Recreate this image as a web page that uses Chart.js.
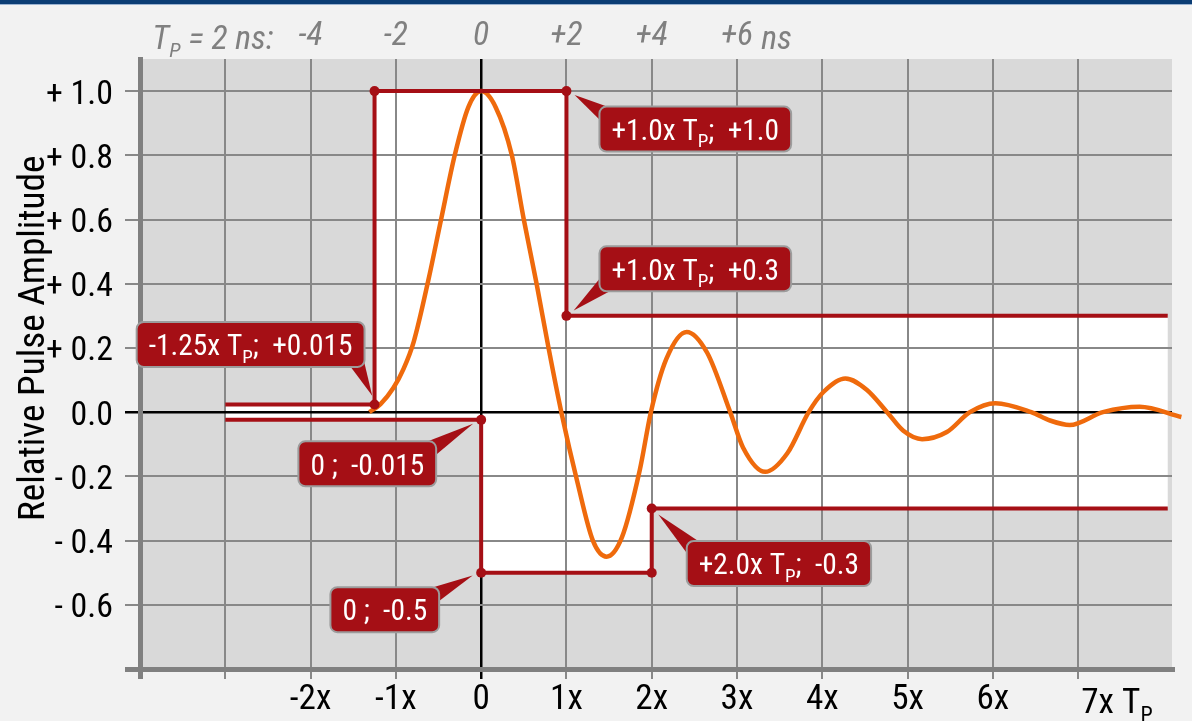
<!DOCTYPE html>
<html>
<head>
<meta charset="utf-8">
<title>Pulse mask</title>
<script src="https://cdn.jsdelivr.net/npm/chart.js@4.4.1/dist/chart.umd.min.js"></script>
<style>
html, body { margin: 0; padding: 0; background: #f2f2f2; }
#wrap { position: relative; width: 1192px; height: 721px; overflow: hidden; }
#topBar { position: absolute; left: 0; top: 0; width: 100%; height: 4px; background: #0b3d74; border-bottom: 1px solid #9bb3d1; z-index: 2; }
canvas { display: block; }
</style>
</head>
<body>
<div id="wrap">
    <div id="topBar"></div>
    <canvas id="pulseChart" width="1192" height="721"></canvas>
</div>
<script>
// ===============================
// DATA
// ===============================
const pulseX = [-1.31, -1.18, -1.03, -0.91, -0.79, -0.62, -0.47, -0.31, -0.15, 0, 0.17, 0.36, 0.5, 0.65, 0.79, 0.94,
    1.13, 1.31, 1.47, 1.65, 1.86, 1.99, 2.17, 2.41, 2.65, 2.92, 3.07, 3.33, 3.59, 3.84,
    4.01, 4.27, 4.52, 4.76, 4.95, 5.17, 5.46, 5.73, 6.03, 6.45, 6.67, 6.9, 7.29, 7.72, 8.21];
const pulseY = [0, 0.025, 0.075, 0.135, 0.22, 0.41, 0.6, 0.8, 0.95, 1.0, 0.95, 0.8, 0.6, 0.4, 0.2, 0,
    -0.22, -0.4, -0.45, -0.39, -0.18, 0, 0.165, 0.25, 0.185, 0, -0.11, -0.186, -0.128, 0,
    0.062, 0.105, 0.07, 0, -0.058, -0.084, -0.062, 0, 0.028, 0, -0.026, -0.04, 0, 0.017, -0.015];

const maskUpperX = [-3, -1.25, -1.25, 1, 1, 8.05];
const maskUpperY = [0.024, 0.024, 1.0, 1.0, 0.3, 0.3];
const maskLowerX = [-3, 0, 0, 2, 2, 8.05];
const maskLowerY = [-0.024, -0.024, -0.5, -0.5, -0.3, -0.3];

const cornerX = [-1.25, 1, 1, -1.25, 0, 0, 2, 2];
const cornerY = [1.0, 1.0, 0.3, 0.024, -0.024, -0.5, -0.5, -0.3];

const calloutLabels = ["+1.0x T_P;  +1.0", "+1.0x T_P;  +0.3", "-1.25x T_P;  +0.015", "0 ;  -0.015", "0 ;  -0.5", "+2.0x T_P;  -0.3"];
const calloutX = [1, 1, -1.25, 0, 0, 2];
const calloutY = [1.0, 0.3, 0.024, -0.024, -0.5, -0.3];

const xTicks = [-4, -3, -2, -1, 0, 1, 2, 3, 4, 5, 6, 7];
const xTickLabels = ["", "", "-2x", "-1x", "0", "1x", "2x", "3x", "4x", "5x", "6x", ""];
const xLastLabel = "7x T_P";
const topTicks = [-2, -1, 0, 1, 2, 3];
const topTickLabels = ["-4", "-2", "0", "+2", "+4", "+6"];
const topPrefix = "T_P = 2 ns:";
const topSuffix = "ns";
const yTicks = [-0.8, -0.6, -0.4, -0.2, 0, 0.2, 0.4, 0.6, 0.8, 1.0];
const yTickLabels = ["", "- 0.6", "- 0.4", "- 0.2", "0.0", "+ 0.2", "+ 0.4", "+ 0.6", "+ 0.8", "+ 1.0"];
const yTitle = "Relative Pulse Amplitude";

// ===============================
// STYLE
// ===============================
const RED = "#a50f15";
const ORANGE = "#ef6a0c";
const GRID = "#888888";
const AXIS = "#808080";
const PLOT_BG = "#d9d9d9";

// [gap from point to near box edge, box centre y offset], in pixels
const calloutPlace = [[33, 38], [33, -47], [-10, -60], [-45, 44], [-42, 37], [35, 55]];

const toXY = (xs, ys) => xs.map((v, i) => ({ x: v, y: ys[i] }));

// ===============================
// FONT PICK (installed face closest to a narrow grotesque)
// ===============================
function pickFont() {
    const c = document.createElement("canvas").getContext("2d");
    const candidates = [
        { family: '"Liberation Sans Narrow"', stretch: "normal" },
        { family: '"Roboto Condensed"', stretch: "normal" },
        { family: '"Arial Narrow"', stretch: "normal" },
        { family: '"Noto Sans"', stretch: "condensed" },
        { family: '"Open Sans"', stretch: "condensed" },
        { family: "Roboto", stretch: "condensed" },
        { family: '"Noto Sans"', stretch: "semi-condensed" },
        { family: '"Open Sans"', stretch: "semi-condensed" },
        { family: '"DejaVu Sans Condensed"', stretch: "normal" },
        { family: '"DejaVu Sans"', stretch: "semi-condensed" },
        { family: '"Liberation Sans"', stretch: "normal" },
        { family: "Roboto", stretch: "normal" }
    ];
    const sample = "+ 1.0x Relative Pulse";
    const target = 0.65;
    let best = null;
    candidates.forEach(cand => {
        c.font = "100px monospace";
        const mono = c.measureText(sample).width;
        c.font = `normal normal ${cand.stretch} 100px ${cand.family}, monospace`;
        if (Math.abs(c.measureText(sample).width - mono) < 0.5) return;
        const d = c.measureText("0");
        cand.capH = d.actualBoundingBoxAscent / 100;
        cand.ratio = d.width / d.actualBoundingBoxAscent;
        if (!best || Math.abs(cand.ratio - target) < Math.abs(best.ratio - target) - 0.01) best = cand;
    });
    return best || { family: "sans-serif", stretch: "normal", capH: 0.72, ratio: 0.8 };
}
const PICK = pickFont();
const FAMILY = PICK.family;
const WEIGHT = "normal " + PICK.stretch;
const fontStr = (size, italic) => `${italic ? "italic" : "normal"} ${WEIGHT} ${size}px ${FAMILY}`;

// size mostly from the reference width, partly from digit height
function fitSize(text, targetW, targetH, italic) {
    const c = document.createElement("canvas").getContext("2d");
    c.font = fontStr(100, italic);
    const w = c.measureText(text).width;
    const sW = 100 * targetW / w;
    const sH = targetH / PICK.capH;
    return Math.round(Math.pow(sW, 0.75) * Math.pow(sH, 0.25) * 10) / 10;
}
const Y_SIZE = fitSize("+ 1.0", 66, 26);
const X_SIZE = fitSize("-2x", 42, 25);
const TOP_SIZE = fitSize("+4", 33, 23, true);
const BOX_SIZE = fitSize("+1.0x TP;  +1.0", 172, 22);
const TITLE_SIZE = fitSize(yTitle, 367, 27);

// ===============================
// TEXT HELPERS
// ===============================
function richParts(text) {
    const parts = [];
    text.split("_").forEach((s, i) => {
        if (i === 0) { parts.push({ t: s, sub: false }); return; }
        parts.push({ t: s[0], sub: true });
        if (s.length > 1) parts.push({ t: s.slice(1), sub: false });
    });
    return parts;
}

function richWidth(ctx, text, size, italic) {
    const subSize = Math.round(size * 0.63);
    let w = 0;
    richParts(text).forEach(p => {
        ctx.font = fontStr(p.sub ? subSize : size, italic);
        w += ctx.measureText(p.t).width;
    });
    return w;
}

// "_X" is drawn as subscript X; y is the vertical centre of the digits
function drawRich(ctx, text, x, y, size, align, italic) {
    const parts = richParts(text);
    const subSize = Math.round(size * 0.63);
    const w = richWidth(ctx, text, size, italic);
    const base = y + PICK.capH * size / 2;
    let cx = align === "center" ? x - w / 2 : align === "right" ? x - w : x;
    ctx.textAlign = "left";
    ctx.textBaseline = "alphabetic";
    parts.forEach(p => {
        ctx.font = fontStr(p.sub ? subSize : size, italic);
        ctx.fillText(p.t, cx, p.sub ? base + size * 0.25 : base);
        cx += ctx.measureText(p.t).width;
    });
    return w;
}

// ===============================
// PLUGIN: backgrounds, callouts, extra texts
// ===============================
const maskPlugin = {
    id: "maskPlugin",
    beforeDraw(chart) {
        const { ctx, chartArea: a, scales: { x, y } } = chart;
        ctx.save();
        ctx.fillStyle = PLOT_BG;
        ctx.fillRect(a.left, a.top, a.right - a.left, a.bottom - a.top);

        ctx.beginPath();
        maskUpperX.forEach((v, i) => {
            const px = x.getPixelForValue(v), py = y.getPixelForValue(maskUpperY[i]);
            if (i === 0) ctx.moveTo(px, py); else ctx.lineTo(px, py);
        });
        for (let i = maskLowerX.length - 1; i >= 0; i--) {
            ctx.lineTo(x.getPixelForValue(maskLowerX[i]), y.getPixelForValue(maskLowerY[i]));
        }
        ctx.closePath();
        ctx.fillStyle = "#ffffff";
        ctx.fill();
        ctx.restore();
    },
    afterDraw(chart) {
        const { ctx, chartArea: a, scales: { x, y } } = chart;
        ctx.save();

        // y title
        ctx.save();
        ctx.translate(30, y.getPixelForValue(0.23));
        ctx.rotate(-Math.PI / 2);
        ctx.fillStyle = "#000";
        ctx.font = fontStr(TITLE_SIZE);
        ctx.textAlign = "center";
        ctx.textBaseline = "alphabetic";
        ctx.fillText(yTitle, 0, PICK.capH * TITLE_SIZE / 2);
        ctx.restore();

        // last bottom label
        ctx.fillStyle = "#000";
        drawRich(ctx, xLastLabel, x.getPixelForValue(7) + 3, 700, X_SIZE, "left");

        // top prefix and suffix
        ctx.fillStyle = AXIS;
        drawRich(ctx, topPrefix, x.getPixelForValue(topTicks[0]) - 37, 36.5, TOP_SIZE, "right", true);
        ctx.font = fontStr(TOP_SIZE, true);
        const w6 = ctx.measureText(topTickLabels[topTickLabels.length - 1]).width;
        drawRich(ctx, topSuffix, x.getPixelForValue(topTicks[topTicks.length - 1]) + w6 / 2 + 8, 36.5, TOP_SIZE, "left", true);

        // callouts
        calloutLabels.forEach((label, i) => {
            const px = x.getPixelForValue(calloutX[i]);
            const py = y.getPixelForValue(calloutY[i]);
            const w = richWidth(ctx, label, BOX_SIZE) + 24;
            const h = 45;
            const gap = calloutPlace[i][0];
            const left = gap > 0 ? px + gap : px + gap - w;
            const cx = left + w / 2;
            const cy = py + calloutPlace[i][1];
            const top = cy - h / 2;
            const cornerX = px < cx ? left : left + w;
            const cornerY = py < cy ? top : top + h;
            const sx = px < cx ? 1 : -1;
            const sy = py < cy ? 1 : -1;

            // pointer wedge
            const dx = cornerX - px, dy = cornerY - py;
            const len = Math.hypot(dx, dy);
            const tipX = px + dx / len * 9, tipY = py + dy / len * 9;
            ctx.beginPath();
            ctx.moveTo(tipX, tipY);
            ctx.lineTo(cornerX + sx * 16, cornerY + sy * 3);
            ctx.lineTo(cornerX + sx * 3, cornerY + sy * 16);
            ctx.closePath();
            ctx.fillStyle = RED;
            ctx.fill();

            // box
            ctx.beginPath();
            ctx.roundRect(left, top, w, h, 7);
            ctx.fillStyle = RED;
            ctx.fill();
            ctx.lineWidth = 2;
            ctx.strokeStyle = "#9c9c9c";
            ctx.stroke();

            ctx.fillStyle = "#ffffff";
            drawRich(ctx, label, cx, cy, BOX_SIZE, "center");
        });

        ctx.restore();
    }
};

// ===============================
// CHART
// ===============================
function gridColorX(c) {
    if (!c.tick) return GRID;
    if (c.tick.value === 0) return "#000";
    if (c.tick.value === -4) return AXIS;
    return GRID;
}
function gridWidthX(c) {
    if (!c.tick) return 2;
    if (c.tick.value === 0) return 2.5;
    if (c.tick.value === -4) return 5;
    return 2;
}
function gridColorY(c) {
    if (!c.tick) return GRID;
    if (Math.abs(c.tick.value) < 1e-9) return "#000";
    if (c.tick.value < -0.79) return AXIS;
    return GRID;
}
function gridWidthY(c) {
    if (!c.tick) return 2;
    if (Math.abs(c.tick.value) < 1e-9) return 2.5;
    if (c.tick.value < -0.79) return 5;
    return 2;
}

const ctx = document.getElementById("pulseChart").getContext("2d");

new Chart(ctx, {
    type: "scatter",
    data: {
        datasets: [
            {
                label: "Pulse",
                data: toXY(pulseX, pulseY),
                showLine: true,
                borderColor: ORANGE,
                borderWidth: 4.5,
                pointRadius: 0,
                cubicInterpolationMode: "monotone",
                clip: false,
                order: 2
            },
            {
                label: "Mask upper",
                data: toXY(maskUpperX, maskUpperY),
                showLine: true,
                borderColor: RED,
                borderWidth: 4,
                borderJoinStyle: "miter",
                pointRadius: 0,
                tension: 0,
                order: 1
            },
            {
                label: "Mask lower",
                data: toXY(maskLowerX, maskLowerY),
                showLine: true,
                borderColor: RED,
                borderWidth: 4,
                borderJoinStyle: "miter",
                pointRadius: 0,
                tension: 0,
                order: 1
            },
            {
                label: "Corners",
                data: toXY(cornerX, cornerY),
                showLine: false,
                pointRadius: 5,
                pointBackgroundColor: RED,
                pointBorderWidth: 0,
                order: 0
            }
        ]
    },
    options: {
        responsive: false,
        animation: false,
        devicePixelRatio: 1,
        layout: { padding: { right: 20 } },
        plugins: {
            legend: { display: false },
            tooltip: { enabled: false }
        },
        scales: {
            x: {
                type: "linear",
                position: "bottom",
                min: -4,
                max: 8.1,
                afterBuildTicks: s => { s.ticks = xTicks.map(v => ({ value: v })); },
                afterFit: s => { s.height = 52; },
                ticks: {
                    autoSkip: false,
                    maxRotation: 0,
                    minRotation: 0,
                    padding: Math.max(0, 21 - 0.6 * X_SIZE),
                    color: "#000",
                    font: { family: FAMILY, weight: WEIGHT, size: X_SIZE },
                    callback: (v, i) => xTickLabels[i]
                },
                grid: {
                    color: gridColorX,
                    lineWidth: gridWidthX,
                    tickLength: 10
                },
                border: { color: AXIS, width: 5 }
            },
            x2: {
                type: "linear",
                position: "top",
                min: -4,
                max: 8.1,
                afterBuildTicks: s => { s.ticks = topTicks.map(v => ({ value: v })); },
                afterFit: s => { s.height = 59; },
                ticks: {
                    autoSkip: false,
                    maxRotation: 0,
                    minRotation: 0,
                    padding: Math.max(0, 22.5 - 0.6 * TOP_SIZE),
                    color: AXIS,
                    font: { family: FAMILY, weight: WEIGHT, size: TOP_SIZE, style: "italic" },
                    callback: (v, i) => topTickLabels[i]
                },
                grid: { display: false, drawTicks: false, tickLength: 0 },
                border: { display: false }
            },
            y: {
                type: "linear",
                min: -0.8,
                max: 1.1,
                afterBuildTicks: s => { s.ticks = yTicks.map(v => ({ value: v })); },
                afterFit: s => { s.width = 140; },
                ticks: {
                    padding: 12,
                    labelOffset: 4,
                    color: "#000",
                    font: { family: FAMILY, weight: WEIGHT, size: Y_SIZE },
                    callback: (v, i) => yTickLabels[i]
                },
                grid: {
                    color: gridColorY,
                    lineWidth: gridWidthY,
                    tickLength: 15
                },
                border: { color: AXIS, width: 5 }
            }
        }
    },
    plugins: [maskPlugin]
});
</script>
</body>
</html>
